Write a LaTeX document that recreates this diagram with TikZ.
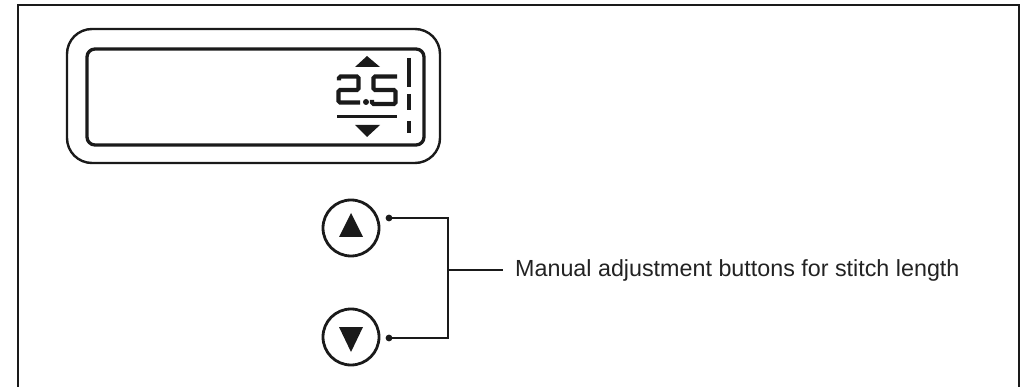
\documentclass[tikz,border=0pt]{standalone}
\usepackage{fontspec}
\setmainfont{Liberation Sans}
\usetikzlibrary{positioning,calc}
\definecolor{ink}{HTML}{1A1A1A}
\definecolor{labelgray}{HTML}{222222}
\begin{document}
\begin{tikzpicture}[x=1pt,y=-1pt,
    panel/.style={draw=ink,line width=2.4pt,rounded corners=25pt},
    screen/.style={draw=ink,line width=3.3pt,rounded corners=8pt},
    segment/.style={ink,line width=4.2pt,rounded corners=1.5pt},
    button/.style={circle,draw=ink,line width=2.8pt,minimum size=56pt,inner sep=0pt},
    wire/.style={ink,line width=1.6pt}]
  \useasboundingbox (0,0) rectangle (1025,387);
  % open frame
  \draw[ink,line width=1.6pt] (18,387) -- (18,5) -- (1019,5) -- (1019,387);
  % display
  \draw[panel] (67,29) rectangle (440,163);
  \draw[screen] (87,49) rectangle (424,145);
  \draw[segment] (339,80.5) -- (339,76.5) -- (358.5,76.5) -- (358.5,90) -- (338.5,90) -- (338.5,102.5) -- (360,102.5);
  \fill[ink] (366,102) circle (3pt);
  \draw[segment] (397,76.5) -- (373.5,76.5) -- (373.5,90) -- (395.5,90) -- (395.5,104) -- (372,104) -- (372,100);
  \draw[ink,line width=3pt] (337,117) -- (397,117);
  \fill[ink] (367,56) -- (355,67) -- (380,67) -- cycle;
  \fill[ink] (355,125) -- (380,125) -- (367,137) -- cycle;
  \foreach \ya/\yb in {58/87,94/110,121/133}
    \draw[ink,line width=4pt] (409,\ya) -- (409,\yb);
  % buttons
  \node[button] (btnup) at (351,228) {};
  \node[button] (btndown) at (351,337) {};
  \fill[ink] ($(btnup)+(0,-15)$) -- ++(-12,24) -- ++(24,0) -- cycle;
  \fill[ink] ($(btndown)+(-12,-10)$) -- ++(24,0) -- ++(-12,25) -- cycle;
  \coordinate (dotup) at (389,218);
  \coordinate (dotdown) at (389,338);
  \coordinate (joint) at (448,270);
  \foreach \p in {dotup,dotdown} \fill[ink] (\p) circle (3.4pt);
  \node[anchor=west,inner xsep=12pt,inner ysep=0pt,text=labelgray,
        font=\fontsize{23.3}{28}\selectfont] (label) at (503,270)
    {Manual adjustment buttons for stitch length};
  \draw[wire] (dotup) -| (joint) |- (dotdown);
  \draw[wire] (joint) -- (label.west);
\end{tikzpicture}
\end{document}
